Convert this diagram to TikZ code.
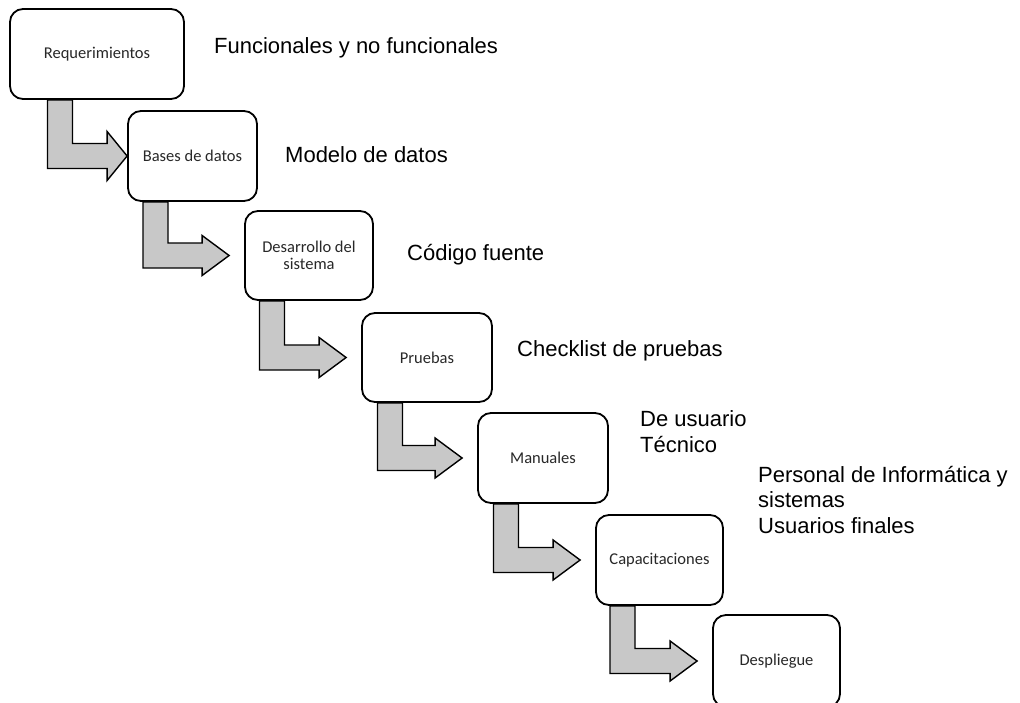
\documentclass[tikz,border=0pt]{standalone}
\usepackage{fontspec}
\setmainfont{Liberation Sans}
\newfontfamily\boxfont{Carlito}
\usetikzlibrary{calc,backgrounds}
\definecolor{stepgray}{RGB}{200,200,200}
\definecolor{boxtext}{RGB}{40,40,40}

\tikzset{
  phase/.style={draw=black, line width=1.8pt, rounded corners=13pt, fill=white,
    inner sep=0pt, minimum width=129pt, minimum height=90pt, align=center,
    text=boxtext, font=\boxfont\fontsize{16.5}{17}\selectfont},
  note/.style={anchor=base west, inner sep=0pt, align=left,
    font=\fontsize{22}{25.5}\selectfont},
  flow/.style={draw=black, line width=1.4pt, fill=stepgray, line join=miter}
}

% bent block arrow from the bottom of box #1 to the left side of box #2
% #3 = gap before the box, #4 = head length, #5 = head half height
\newcommand{\bentflow}[5]{%
  \draw[flow] let \p1=(#1.south), \p2=(#2.west) in
    (\x1-49.5pt,\y1) -- (\x1-49.5pt,\y2-12.5pt)
    -- (\x2-#3-#4,\y2-12.5pt) -- (\x2-#3-#4,\y2-#5)
    -- (\x2-#3,\y2)
    -- (\x2-#3-#4,\y2+#5) -- (\x2-#3-#4,\y2+12.5pt)
    -- (\x1-24.5pt,\y2+12.5pt) -- (\x1-24.5pt,\y1) -- cycle;}

\begin{document}
\begin{tikzpicture}[x=1pt,y=-1pt]
\useasboundingbox (0,0) rectangle (1020,702);

% process steps
\node[phase, minimum width=174pt] (b1) at (97,54) {Requerimientos};
\node[phase] (b2) at (192.5,156) {Bases de datos};
\node[phase, minimum width=128pt, minimum height=89pt] (b3) at (309,255.5) {Desarrollo del\\sistema};
\node[phase, minimum width=130pt, minimum height=89pt] (b4) at (427,357.5) {Pruebas};
\node[phase, minimum width=130pt] (b5) at (543,458) {Manuales};
\node[phase, minimum width=127pt] (b6) at (659.5,560) {Capacitaciones};
\node[phase, minimum width=127pt, minimum height=92pt] (b7) at (776.5,661) {Despliegue};

% deliverables of each step
\node[note] (l1) at (214,53) {Funcionales y no funcionales};
\node[note] (l2) at (285,162) {Modelo de datos};
\node[note] (l3) at (407,260) {Código fuente};
\node[note] (l4) at (517,356) {Checklist de pruebas};
\node[note] (l5) at (640,452) {De usuario\\Técnico};
\node[note] (l6) at (758,533) {Personal de Informática y\\sistemas\\Usuarios finales};

% arrows between steps, behind the boxes
\begin{scope}[on background layer]
  \bentflow{b1}{b2}{0pt}{20pt}{24.5pt}
  \bentflow{b2}{b3}{15pt}{27pt}{20pt}
  \bentflow{b3}{b4}{15pt}{27pt}{20pt}
  \bentflow{b4}{b5}{15pt}{27pt}{20pt}
  \bentflow{b5}{b6}{15pt}{27pt}{20pt}
  \bentflow{b6}{b7}{15pt}{27pt}{20pt}
\end{scope}
\end{tikzpicture}
\end{document}
